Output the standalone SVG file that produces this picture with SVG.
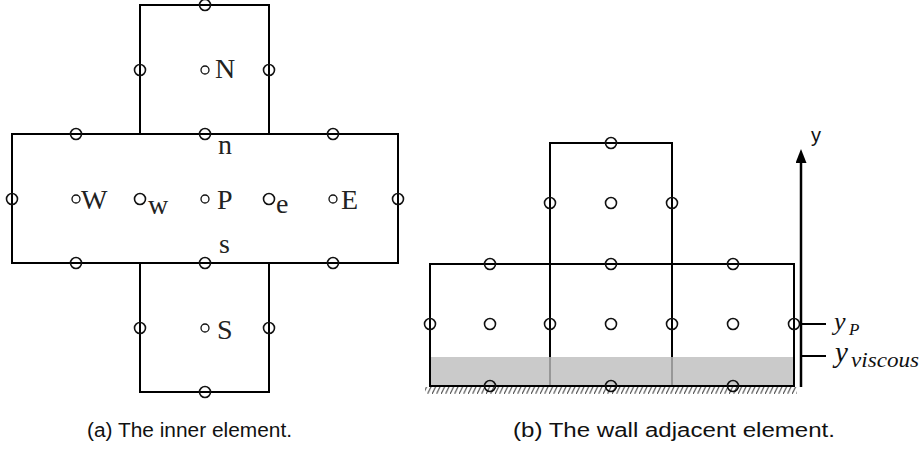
<svg xmlns="http://www.w3.org/2000/svg" width="922" height="451" viewBox="0 0 922 451">
  <style>
    .cell { fill: none; stroke: #000; stroke-width: 2; }
    .face { fill: none; stroke: #111; stroke-width: 1.6; }
    .node { fill: none; stroke: #111; stroke-width: 1.3; }
    .lbl { font-family: "Liberation Serif", "Times New Roman", serif; font-size: 28px; fill: #222; }
    .cap { font-family: "Liberation Sans", Arial, sans-serif; font-size: 20px; fill: #111; }
    .math { font-family: "Liberation Serif", "Times New Roman", serif; font-style: italic; fill: #111; }
  </style>
  <defs>
    <pattern id="hatch" width="4.5" height="9" patternUnits="userSpaceOnUse">
      <line x1="-1" y1="9" x2="5.5" y2="-4" stroke="#444" stroke-width="1.1"/>
    </pattern>
    <marker id="arrow" markerWidth="14" markerHeight="11" refX="1" refY="5.5" orient="auto" markerUnits="userSpaceOnUse" viewBox="0 0 14 11">
      <path d="M0,0 L14,5.5 L0,11 Z" fill="#000"/>
    </marker>
  </defs>

  <!-- (a) inner element: cross of five control volumes -->
  <g id="inner-element">
    <rect class="cell" x="140" y="5" width="129" height="129"/>
    <rect class="cell" x="12" y="134" width="386" height="129"/>
    <rect class="cell" x="140" y="263" width="129" height="129"/>
    <!-- face points -->
    <circle class="face" cx="205" cy="5" r="5.5"/>
    <circle class="face" cx="140" cy="70" r="5.5"/>
    <circle class="face" cx="269" cy="70" r="5.5"/>
    <circle class="face" cx="76" cy="134" r="5.5"/>
    <circle class="face" cx="205" cy="134" r="5.5"/>
    <circle class="face" cx="333" cy="134" r="5.5"/>
    <circle class="face" cx="12" cy="199" r="5.5"/>
    <circle class="face" cx="140" cy="199" r="5.5"/>
    <circle class="face" cx="269" cy="199" r="5.5"/>
    <circle class="face" cx="398" cy="199" r="5.5"/>
    <circle class="face" cx="76" cy="263" r="5.5"/>
    <circle class="face" cx="205" cy="263" r="5.5"/>
    <circle class="face" cx="333" cy="263" r="5.5"/>
    <circle class="face" cx="140" cy="328" r="5.5"/>
    <circle class="face" cx="269" cy="328" r="5.5"/>
    <circle class="face" cx="205" cy="392" r="5.5"/>
    <!-- cell centres -->
    <circle class="node" cx="205" cy="70" r="4"/>
    <circle class="node" cx="76" cy="199" r="4"/>
    <circle class="node" cx="205" cy="199" r="4"/>
    <circle class="node" cx="333" cy="199" r="4"/>
    <circle class="node" cx="205" cy="328" r="4"/>
    <!-- labels -->
    <text class="lbl" x="215" y="78">N</text>
    <text class="lbl" x="218" y="154">n</text>
    <text class="lbl" x="81" y="209">W</text>
    <text class="lbl" x="148" y="214">w</text>
    <text class="lbl" x="217" y="209">P</text>
    <text class="lbl" x="276" y="213">e</text>
    <text class="lbl" x="341" y="209">E</text>
    <text class="lbl" x="219" y="253">s</text>
    <text class="lbl" x="217" y="339">S</text>
  </g>

  <!-- (b) wall adjacent element -->
  <g id="wall-element">
    <rect x="425" y="387" width="372" height="7" fill="url(#hatch)"/>
    <rect class="cell" x="550" y="143" width="122" height="121"/>
    <rect class="cell" x="430" y="264" width="364" height="122"/>
    <line class="cell" x1="550" y1="264" x2="550" y2="386"/>
    <line class="cell" x1="672" y1="264" x2="672" y2="386"/>
    <!-- viscous sublayer -->
    <rect x="431" y="357" width="362" height="28" fill="#bdbdbd" fill-opacity="0.8"/>
    <line x1="430" y1="386" x2="794" y2="386" stroke="#000" stroke-width="2"/>
    <!-- nodes -->
    <circle class="face" cx="611" cy="143" r="5.5"/>
    <circle class="face" cx="550" cy="203" r="5.5"/>
    <circle class="face" cx="611" cy="203" r="5.5"/>
    <circle class="face" cx="672" cy="203" r="5.5"/>
    <circle class="face" cx="490" cy="264" r="5.5"/>
    <circle class="face" cx="611" cy="264" r="5.5"/>
    <circle class="face" cx="733" cy="264" r="5.5"/>
    <circle class="face" cx="430" cy="324" r="5.5"/>
    <circle class="face" cx="490" cy="324" r="5.5"/>
    <circle class="face" cx="550" cy="324" r="5.5"/>
    <circle class="face" cx="611" cy="324" r="5.5"/>
    <circle class="face" cx="672" cy="324" r="5.5"/>
    <circle class="face" cx="733" cy="324" r="5.5"/>
    <circle class="face" cx="794" cy="324" r="5.5"/>
    <circle class="face" cx="490" cy="386" r="5.5"/>
    <circle class="face" cx="611" cy="386" r="5.5"/>
    <circle class="face" cx="733" cy="386" r="5.5"/>
  </g>

  <!-- wall-normal axis with y_P and y_viscous markers -->
  <g id="axis">
    <line x1="801" y1="387" x2="801" y2="162" stroke="#000" stroke-width="2.5" marker-end="url(#arrow)"/>
    <line x1="801" y1="324" x2="826" y2="324" stroke="#000" stroke-width="2"/>
    <line x1="801" y1="356" x2="826" y2="356" stroke="#000" stroke-width="2"/>
    <text x="811" y="142" font-family="Liberation Sans, Arial, sans-serif" font-size="20" fill="#111">y</text>
    <text class="math" x="834" y="330" font-size="26">y</text>
    <text class="math" x="849" y="335" font-size="17">P</text>
    <text class="math" x="835" y="362" font-size="29">y</text>
    <text class="math" x="851" y="367" font-size="20" textLength="68" lengthAdjust="spacingAndGlyphs">viscous</text>
  </g>

  <!-- captions -->
  <g id="captions">
    <text class="cap" x="87" y="437" textLength="205" lengthAdjust="spacingAndGlyphs">(a) The inner element.</text>
    <text class="cap" x="513" y="437" textLength="322" lengthAdjust="spacingAndGlyphs">(b) The wall adjacent element.</text>
  </g>
</svg>
